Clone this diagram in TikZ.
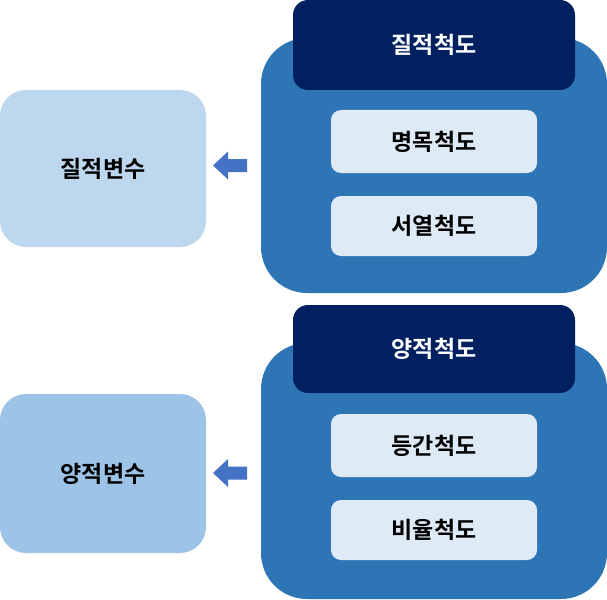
\documentclass[tikz,border=0pt]{standalone}
\usepackage{fontspec}
\setmainfont{Noto Sans CJK KR Bold}
\definecolor{leftA}{HTML}{BDD7EE}
\definecolor{leftB}{HTML}{9DC3E6}
\definecolor{bigblue}{HTML}{2E75B6}
\definecolor{navy}{HTML}{002060}
\definecolor{innerc}{HTML}{DEEBF7}
\definecolor{arrowc}{HTML}{4472C4}
\begin{document}
\begin{tikzpicture}[x=1pt,y=-1pt,
  lbl/.style={font=\fontsize{23}{27}\selectfont},
  bigbox/.style={fill=bigblue, rounded corners=46pt},
  headbox/.style={fill=navy, rounded corners=15pt},
  innerbox/.style={fill=innerc, rounded corners=10pt},
  blockarrow/.style={fill=arrowc}]
\useasboundingbox (0,0) rectangle (607,599);
% group 1
\path[fill=leftA, rounded corners=26pt] (0,90) rectangle (206,247);
\node[lbl] (qv) at (103,168.5) {질적변수};
\path[bigbox] (261,38) rectangle (607,293);
\path[headbox] (293,0) rectangle (575,90);
\node[lbl, text=white] (qs) at (434,45) {질적척도};
\path[innerbox] (331,110) rectangle (537,173);
\node[lbl] (nom) at (434,141.5) {명목척도};
\path[innerbox] (331,196) rectangle (537,256);
\node[lbl] (ord) at (434,226) {서열척도};
\coordinate (t1) at (213,165.5);
\fill[blockarrow] (t1) -- ++(15,-14) -- ++(0,7.5) -- ++(19,0) -- ++(0,13) -- ++(-19,0) -- ++(0,7.5) -- cycle;
% group 2
\path[fill=leftB, rounded corners=26pt] (0,394) rectangle (206,553);
\node[lbl] (qnv) at (103,473.5) {양적변수};
\path[bigbox] (261,343) rectangle (607,599);
\path[headbox] (293,305) rectangle (575,393);
\node[lbl, text=white] (qns) at (434,349) {양적척도};
\path[innerbox] (331,414) rectangle (537,477);
\node[lbl] (int) at (434,445.5) {등간척도};
\path[innerbox] (331,500) rectangle (537,560);
\node[lbl] (rat) at (434,530) {비율척도};
\coordinate (t2) at (213,473);
\fill[blockarrow] (t2) -- ++(15,-14) -- ++(0,7.5) -- ++(19,0) -- ++(0,13) -- ++(-19,0) -- ++(0,7.5) -- cycle;
\end{tikzpicture}
\end{document}
